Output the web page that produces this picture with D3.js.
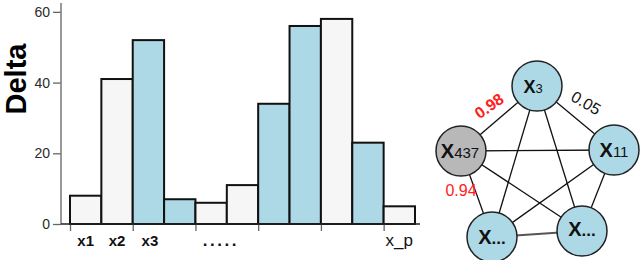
<!DOCTYPE html>
<html>
<head>
<meta charset="utf-8">
<script src="https://cdn.jsdelivr.net/npm/d3@7"></script>
<style>
  html, body { margin: 0; padding: 0; background: #fff; }
  svg { display: block; font-family: "Liberation Sans", Arial, Helvetica, sans-serif; }
</style>
</head>
<body>
<svg id="chart" width="640" height="260"></svg>
<script>
// ---- data ----
const categories = ["x1", "x2", "x3", "x4", "x5", "x6", "x7", "x8", "x9", "x10", "x_p"];
const deltaValues = [8, 41, 52, 7, 6, 11, 34, 56, 58, 23, 5];
const highlighted = [false, false, true, true, false, false, true, true, false, true, false];
const yTickValues = [0, 20, 40, 60];
const xTickLabels = [
  { at: "x1", text: "x1" },
  { at: "x2", text: "x2" },
  { at: "x3", text: "x3" },
  { at: "x6", text: "....." },
  { at: "x_p", text: "x_p" }
];
const nodeNames = ["X3", "X11", "BR", "BL", "X437"];
const nodeMain = ["X", "X", "X", "X", "X"];
const nodeSub = ["3", "11", "...", "...", "437"];
const nodeGrey = [false, false, false, false, true];
const edges = [
  ["X3", "X437"], ["X3", "X11"], ["X3", "BL"], ["X3", "BR"],
  ["X437", "X11"], ["X437", "BL"], ["X437", "BR"],
  ["X11", "BL"], ["X11", "BR"], ["BL", "BR"]
];
const edgeWeights = ["0.98", "0.05", "0.94"];
const edgeWeightColor = ["red", "black", "red"];

// ---- layout (positions/styles) ----
const nodeLayout = {
  X3:   { x: 537, y: 86,  fs: 18, ss: 13, dx: -4, dy: 7 },
  X11:  { x: 614, y: 150, fs: 20, ss: 15, dx: 0,  dy: 7 },
  BR:   { x: 582, y: 231, fs: 20, ss: 17, dx: 0,  dy: 5 },
  BL:   { x: 492, y: 237, fs: 20, ss: 17, dx: 0,  dy: 7 },
  X437: { x: 461, y: 151, fs: 20, ss: 15, dx: -1, dy: 7 }
};
const weightLayout = [
  { x: 489, y: 106, rot: -35 },
  { x: 586, y: 103, rot: 30 },
  { x: 461, y: 190, rot: 0 }
];

const svg = d3.select("#chart");

// ---- bar chart ----
const plotLeft = 61, barLeft = 70, barRight = 415, baseY = 224, topY = 3;
const x = d3.scaleBand().domain(categories).range([barLeft, barRight]).padding(0);
const y = d3.scaleLinear().domain([0, 62.5]).range([baseY, topY]);

// y axis
const yAxis = svg.append("g")
  .attr("transform", `translate(${plotLeft},0)`)
  .call(d3.axisLeft(y).tickValues(yTickValues).tickSize(8).tickSizeOuter(0).tickPadding(3));
yAxis.select(".domain").remove();
yAxis.selectAll(".tick line").attr("stroke", "#666").attr("stroke-width", 1.3);
yAxis.selectAll(".tick text").attr("fill", "#2a2a2a").style("font-size", "14px")
  .style("font-family", "'Liberation Sans', Arial, sans-serif");
svg.append("line")
  .attr("x1", plotLeft).attr("x2", plotLeft)
  .attr("y1", y.range()[1]).attr("y2", y.range()[0])
  .attr("stroke", "#777").attr("stroke-width", 1.5);

// bars
svg.append("g").selectAll("rect")
  .data(categories)
  .join("rect")
  .attr("x", d => x(d))
  .attr("y", (d, i) => y(deltaValues[i]))
  .attr("width", x.bandwidth())
  .attr("height", (d, i) => y(0) - y(deltaValues[i]))
  .attr("fill", (d, i) => highlighted[i] ? "#add8e6" : "#f6f6f6")
  .attr("stroke", "#111")
  .attr("stroke-width", 2);

// x axis ticks (every two bars)
const xEdge = d3.scaleLinear().domain([0, categories.length]).range([barLeft, barRight]);
const xAxis = svg.append("g")
  .attr("transform", `translate(0,${baseY})`)
  .call(d3.axisBottom(xEdge).tickValues(d3.range(0, categories.length, 2)).tickFormat("").tickSize(7).tickSizeOuter(0));
xAxis.select(".domain").remove();
xAxis.selectAll(".tick line").attr("stroke", "#666").attr("stroke-width", 1.3);
svg.append("line")
  .attr("x1", plotLeft).attr("x2", barRight + 5)
  .attr("y1", baseY).attr("y2", baseY)
  .attr("stroke", "#222").attr("stroke-width", 1.6);

// x labels
svg.append("g").selectAll("text")
  .data(xTickLabels)
  .join("text")
  .attr("x", d => d.text === "....." ? x(d.at) - 6 : x(d.at) + x.bandwidth() / 2 + (d.text === "x3" ? 1.5 : 0))
  .attr("y", 246)
  .attr("text-anchor", "middle")
  .attr("fill", "#111")
  .style("font-size", d => d.text === "x_p" ? "17px" : d.text === "....." ? "17px" : "15px")
  .style("font-weight", d => d.text === "x_p" ? "normal" : "bold")
  .style("letter-spacing", d => d.text === "....." ? "2.5px" : "0px")
  .text(d => d.text);

// y title
svg.append("text")
  .attr("transform", "translate(25.5,79) rotate(-90)")
  .attr("text-anchor", "middle")
  .attr("fill", "#000")
  .style("font-size", "29px")
  .style("font-weight", "bold")
  .text("Delta");

// ---- network ----
const net = svg.append("g");
net.append("g").selectAll("line")
  .data(edges)
  .join("line")
  .attr("x1", d => nodeLayout[d[0]].x).attr("y1", d => nodeLayout[d[0]].y)
  .attr("x2", d => nodeLayout[d[1]].x).attr("y2", d => nodeLayout[d[1]].y)
  .attr("stroke", d => (d[0] === "BL" && d[1] === "BR") ? "#555" : "#111")
  .attr("stroke-width", d => (d[0] === "BL" && d[1] === "BR") ? 2 : 1.3);

const nodeG = net.append("g").selectAll("g")
  .data(nodeNames)
  .join("g")
  .attr("transform", d => `translate(${nodeLayout[d].x},${nodeLayout[d].y})`);
nodeG.append("circle")
  .attr("r", 25)
  .attr("fill", (d, i) => nodeGrey[i] ? "#b8b8b8" : "#add8e6")
  .attr("stroke", "#222")
  .attr("stroke-width", 1.5);
const lbl = nodeG.append("text")
  .attr("x", d => nodeLayout[d].dx)
  .attr("y", d => nodeLayout[d].dy)
  .attr("text-anchor", "middle")
  .attr("fill", "#111");
lbl.append("tspan")
  .style("font-size", d => nodeLayout[d].fs + "px")
  .style("font-weight", "bold")
  .text((d, i) => nodeMain[i]);
lbl.append("tspan")
  .style("font-size", d => nodeLayout[d].ss + "px")
  .style("font-weight", (d, i) => nodeSub[i] === "..." ? "bold" : "normal")
  .text((d, i) => nodeSub[i]);

// edge weights
net.append("g").selectAll("text")
  .data(edgeWeights)
  .join("text")
  .attr("transform", (d, i) => `translate(${weightLayout[i].x},${weightLayout[i].y}) rotate(${weightLayout[i].rot})`)
  .attr("text-anchor", "middle")
  .attr("dy", "0.35em")
  .attr("fill", (d, i) => edgeWeightColor[i] === "red" ? "#ff2020" : "#111")
  .style("font-size", "16px")
  .style("font-weight", (d, i) => i === 0 ? "bold" : "normal")
  .text(d => d);
</script>
</body>
</html>
